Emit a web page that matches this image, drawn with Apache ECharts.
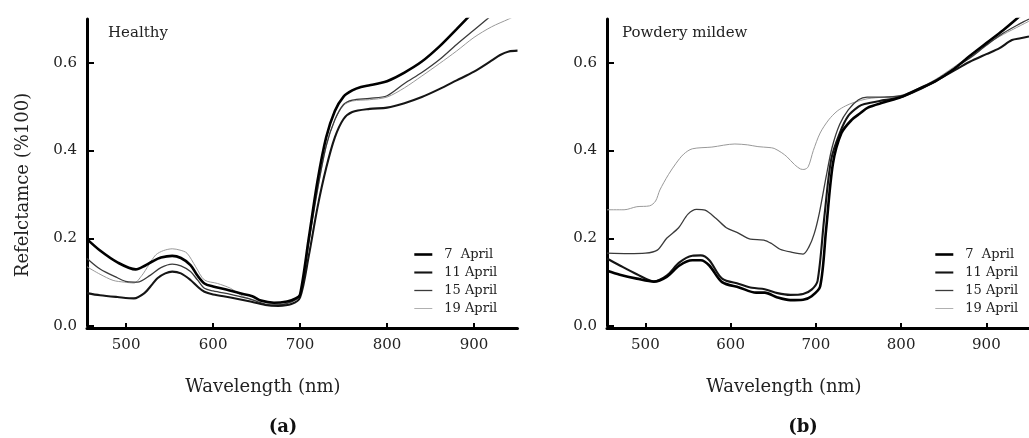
<!DOCTYPE html>
<html><head><meta charset="utf-8">
<script src="https://cdn.jsdelivr.net/npm/echarts@6.0.0/dist/echarts.min.js"></script>
<style>html,body{margin:0;padding:0;background:#fff;overflow:hidden}#c{width:1029px;height:438px}</style>
</head><body><div id="c"></div>
<script>
// ---- data ----
const seriesNames = ['7  April', '11 April', '15 April', '19 April'];
const panelTitles = ['Healthy', 'Powdery mildew'];
const panelLetters = ['(a)', '(b)'];
const xTicks = [500, 600, 700, 800, 900];
const yTicks = [0, 0.2, 0.4, 0.6];

// Healthy
const h7_wl  = [455,470,490,511,522,530,540,553,563,574,582,590,600,615,630,645,655,670,685,695,700,710,720,730,740,750,760,770,780,790,800,820,840,860,880,900,920];
const h7_val = [0.198,0.172,0.145,0.129,0.138,0.147,0.156,0.160,0.155,0.139,0.115,0.097,0.090,0.083,0.075,0.068,0.058,0.053,0.056,0.063,0.072,0.200,0.330,0.430,0.490,0.523,0.537,0.545,0.549,0.553,0.558,0.578,0.603,0.637,0.677,0.718,0.760];
const h11_wl  = [455,470,490,509,521,530,536,545,553,563,574,582,590,600,620,640,660,675,690,700,710,720,730,740,750,760,780,800,820,840,860,880,900,920,930,940,950];
const h11_val = [0.075,0.070,0.066,0.063,0.075,0.095,0.109,0.120,0.124,0.120,0.105,0.090,0.078,0.072,0.065,0.057,0.048,0.046,0.050,0.065,0.160,0.270,0.360,0.430,0.472,0.488,0.495,0.498,0.508,0.522,0.540,0.560,0.580,0.605,0.618,0.626,0.628];
const h15_wl  = [455,470,490,501,513,528,540,553,563,574,582,590,600,620,640,660,675,690,700,710,720,730,740,750,760,780,800,820,840,860,880,900,920];
const h15_val = [0.154,0.130,0.110,0.101,0.100,0.116,0.133,0.141,0.137,0.124,0.105,0.086,0.080,0.072,0.063,0.050,0.048,0.055,0.070,0.190,0.310,0.410,0.470,0.505,0.515,0.519,0.525,0.553,0.578,0.607,0.642,0.675,0.708];
const h19_wl  = [455,470,485,498,509,518,526,534,543,553,562,570,580,590,605,620,635,650,660,675,690,700,710,720,730,740,750,760,780,800,820,840,860,880,900,920,940,950];
const h19_val = [0.135,0.118,0.104,0.100,0.098,0.115,0.139,0.162,0.172,0.176,0.173,0.166,0.135,0.105,0.097,0.086,0.067,0.058,0.054,0.050,0.055,0.070,0.190,0.310,0.410,0.470,0.503,0.513,0.516,0.522,0.543,0.570,0.598,0.627,0.658,0.682,0.700,0.710];

// Powdery mildew
const p7_wl  = [455,470,490,510,525,540,555,565,575,590,610,630,640,655,670,685,695,705,712,720,730,742,752,761,780,800,820,840,860,880,900,920,940,950];
const p7_val = [0.126,0.117,0.108,0.101,0.112,0.138,0.150,0.150,0.138,0.100,0.088,0.076,0.076,0.065,0.059,0.060,0.068,0.090,0.220,0.370,0.440,0.470,0.485,0.498,0.510,0.522,0.540,0.558,0.583,0.615,0.645,0.675,0.708,0.725];
const p11_wl  = [455,470,490,510,525,540,555,565,575,590,610,625,640,655,670,685,695,702,710,718,728,738,750,757,780,800,820,840,860,880,900,915,930,940,950];
const p11_val = [0.154,0.138,0.118,0.102,0.115,0.145,0.160,0.161,0.150,0.108,0.096,0.087,0.084,0.075,0.071,0.073,0.083,0.103,0.250,0.380,0.440,0.479,0.500,0.506,0.515,0.522,0.538,0.558,0.580,0.602,0.620,0.633,0.652,0.656,0.660];
const p15_wl  = [455,480,500,514,525,539,550,560,570,583,595,608,623,639,648,658,672,685,692,698,704,712,719,728,738,750,760,780,800,820,840,860,880,900,920,940,950];
const p15_val = [0.166,0.165,0.166,0.173,0.200,0.224,0.255,0.266,0.264,0.245,0.224,0.213,0.198,0.196,0.188,0.175,0.168,0.164,0.181,0.210,0.257,0.340,0.407,0.460,0.493,0.516,0.522,0.522,0.525,0.540,0.560,0.585,0.610,0.640,0.668,0.690,0.700];
const p19_wl  = [455,475,490,505,512,517,527,536,545,555,578,605,620,632,645,651,660,666,675,682,686,691,697,705,715,725,735,745,760,780,800,820,840,860,880,900,920,940,950];
const p19_val = [0.265,0.265,0.272,0.274,0.285,0.310,0.345,0.371,0.392,0.404,0.408,0.415,0.413,0.409,0.407,0.405,0.395,0.386,0.368,0.358,0.357,0.363,0.400,0.440,0.470,0.490,0.502,0.510,0.518,0.522,0.526,0.542,0.562,0.588,0.615,0.642,0.665,0.685,0.695];

const panels = [
  [[h7_wl,h7_val],[h11_wl,h11_val],[h15_wl,h15_val],[h19_wl,h19_val]],
  [[p7_wl,p7_val],[p11_wl,p11_val],[p15_wl,p15_val],[p19_wl,p19_val]]
];

// ---- styles ----
const FONT = 'DejaVu Serif';
const lineStyles = [
  {color:'#000000', width:2.6},
  {color:'#151515', width:2.1},
  {color:'#3a3a3a', width:1.3},
  {color:'#b0b0b0', width:1.0}
];
const gridLefts = [87, 607];
const gridW = 430.5;

const zip = (xs, ys) => xs.map((x, i) => [x, ys[i]]);

const series = [];
panels.forEach((pan, pi) => {
  for (let k = 3; k >= 0; k--) {
    series.push({
      type: 'line', name: seriesNames[k], xAxisIndex: pi, yAxisIndex: pi,
      data: zip(pan[k][0], pan[k][1]), symbol: 'none', smooth: 0.3,
      lineStyle: Object.assign({}, lineStyles[k], k === 3 ? {color: '#999'} : {}),
      itemStyle: {color: lineStyles[k].color},
      clip: true, silent: true
    });
  }
});

const xAxes = gridLefts.map((l, i) => ({
  type: 'value', gridIndex: i, min: 455, max: 950, offset: 2,
  axisLine: {show: true, onZero: false, lineStyle: {color: '#000', width: 3}},
  axisTick: {show: true, inside: true, length: 5, customValues: xTicks, lineStyle: {color: '#000', width: 2}},
  axisLabel: {customValues: xTicks, margin: 10, color: '#222', fontFamily: FONT, fontSize: 15},
  splitLine: {show: false}
}));
const yAxes = gridLefts.map((l, i) => ({
  type: 'value', gridIndex: i, min: 0, max: 0.7,
  axisLine: {show: true, onZero: false, lineStyle: {color: '#000', width: 3}},
  axisTick: {show: true, inside: true, length: 7, customValues: yTicks, lineStyle: {color: '#000', width: 2}},
  axisLabel: {customValues: yTicks, margin: 10, color: '#222', fontFamily: FONT, fontSize: 15,
              formatter: v => v.toFixed(1)},
  splitLine: {show: false}
}));

const legends = [408, 929].map(l => ({
  left: l, top: 243, orient: 'vertical', itemWidth: 18, itemHeight: 14, itemGap: 5,
  data: seriesNames.map((n, k) => ({name: n, itemStyle: {opacity: 0},
        lineStyle: {color: lineStyles[k].color, width: lineStyles[k].width}})),
  selectedMode: false,
  textStyle: {fontFamily: FONT, fontSize: 13, color: '#222', padding: [0, 0, 0, 7]}
}));

const txt = (x, y, s, size, extra) => ({
  type: 'text', x: x, y: y, silent: true,
  style: Object.assign({text: s, fontFamily: FONT, fontSize: size, fill: '#222',
                        textAlign: 'center', textVerticalAlign: 'middle'}, extra || {})
});

const graphics = [
  txt(108, 33, panelTitles[0], 15, {textAlign: 'left'}),
  txt(622, 33, panelTitles[1], 15, {textAlign: 'left'}),
  txt(263, 387, 'Wavelength (nm)', 18),
  txt(784, 387, 'Wavelength (nm)', 18),
  txt(283, 427, panelLetters[0], 18, {fontWeight: 'bold', fill: '#111'}),
  txt(803, 427, panelLetters[1], 18, {fontWeight: 'bold', fill: '#111'}),
  Object.assign(txt(0, 0, 'Refelctamce (%100)', 18), {x: 23, y: 185, rotation: Math.PI / 2})
];

const chart = echarts.init(document.getElementById('c'), null, {renderer: 'canvas'});
chart.setOption({
  animation: false,
  backgroundColor: '#ffffff',
  grid: gridLefts.map(l => ({left: l, top: 19, width: gridW, height: 307, containLabel: false})),
  xAxis: xAxes,
  yAxis: yAxes,
  legend: legends,
  series: series,
  graphic: graphics
});
</script></body></html>
